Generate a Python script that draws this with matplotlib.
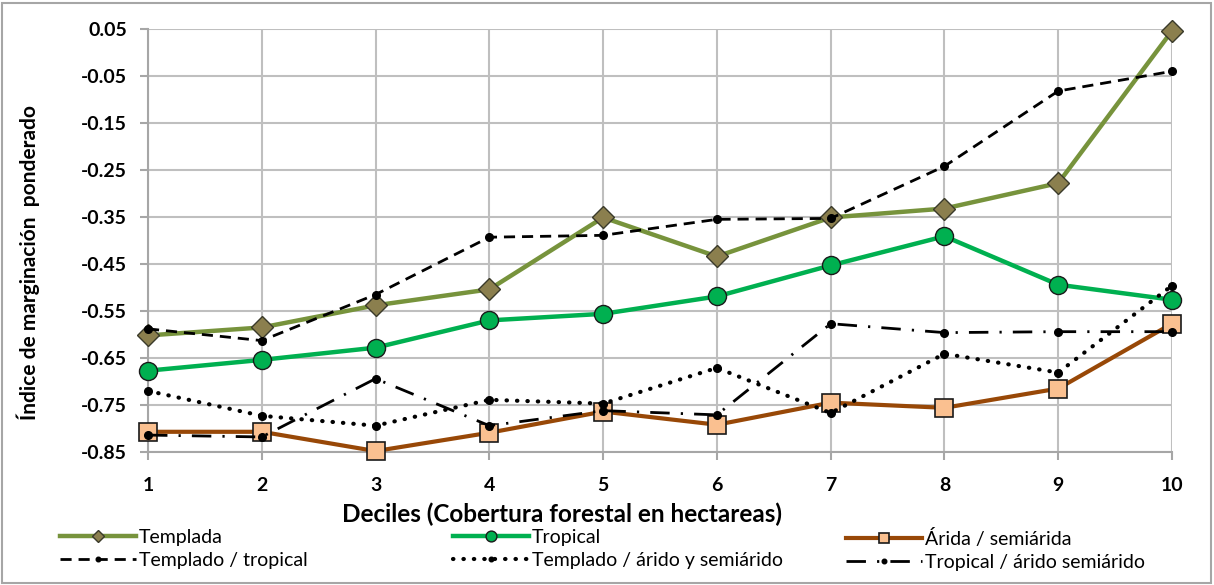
import numpy as np
import matplotlib
matplotlib.use("Agg")
import matplotlib.pyplot as plt
from matplotlib.patches import Rectangle

plt.rcParams['font.family'] = ['Lato', 'DejaVu Sans']

# deciles and the index values
deciles = [1, 2, 3, 4, 5, 6, 7, 8, 9, 10]
templada = [-0.602, -0.585, -0.538, -0.504, -0.351, -0.434, -0.351, -0.332, -0.278, 0.046]
tropical = [-0.677, -0.654, -0.628, -0.570, -0.556, -0.519, -0.453, -0.391, -0.494, -0.526]
arida = [-0.807, -0.807, -0.848, -0.809, -0.764, -0.792, -0.745, -0.756, -0.715, -0.577]
templ_trop = [-0.588, -0.613, -0.515, -0.393, -0.389, -0.355, -0.353, -0.242, -0.082, -0.040]
templ_arido = [-0.720, -0.773, -0.794, -0.739, -0.747, -0.671, -0.767, -0.641, -0.681, -0.496]
trop_arido = [-0.814, -0.818, -0.694, -0.794, -0.762, -0.771, -0.577, -0.596, -0.594, -0.594]

yticks = [0.05, -0.05, -0.15, -0.25, -0.35, -0.45, -0.55, -0.65, -0.75, -0.85]

fig = plt.figure(figsize=(12.14, 5.85), dpi=100)
ax = fig.add_axes([148/1214, 1 - 452/585, (1172 - 148)/1214, (452 - 29)/585])

l1, = ax.plot(deciles, templada, color='#77933C', lw=3.2, marker='D', ms=11,
              mfc='#8B7F4E', mec='#3a3a2a', mew=1, zorder=3, clip_on=False)
l2, = ax.plot(deciles, tropical, color='#00B050', lw=3.2, marker='o', ms=13,
              mfc='#00B050', mec='#1a1a1a', mew=1, zorder=3, clip_on=False)
l3, = ax.plot(deciles, arida, color='#984807', lw=3, marker='s', ms=13,
              mfc='#FAC090', mec='#1a1a1a', mew=1.2, zorder=3, clip_on=False)
l4, = ax.plot(deciles, templ_trop, color='black', lw=2, marker='o', ms=5.5,
              dashes=(4, 2.5), zorder=4, clip_on=False)
l5, = ax.plot(deciles, templ_arido, color='black', lw=3, marker='o', ms=5.5,
              dashes=(0.1, 2.4), dash_capstyle='round', zorder=4, clip_on=False)
l6, = ax.plot(deciles, trop_arido, color='black', lw=2, marker='o', ms=5.5,
              dashes=(7, 4, 0.8, 4), zorder=4, clip_on=False)

ax.set_xlim(1, 10)
ax.set_ylim(-0.85, 0.05)
ax.set_xticks(deciles)
ax.set_yticks(yticks)
ax.set_yticklabels(['%.2f' % v for v in yticks])
ax.grid(True, color='#BFBFBF', lw=1.5)
ax.set_axisbelow(True)
for s in ['top', 'right']:
    ax.spines[s].set_visible(False)
for s in ['left', 'bottom']:
    ax.spines[s].set_color('#A6A6A6')
    ax.spines[s].set_linewidth(1.5)
ax.tick_params(axis='both', direction='out', length=6, width=1.5, color='#A6A6A6',
               labelsize=14)
ax.tick_params(axis='y', pad=9)
ax.tick_params(axis='x', pad=12)
for t in ax.get_xticklabels() + ax.get_yticklabels():
    t.set_fontweight('bold')

fig.text(562/1214, 1 - 514/585, 'Deciles (Cobertura forestal en hectareas)',
         ha='center', va='center', fontsize=17.5, fontweight='bold')
fig.text(28/1214, 1 - 262/585, 'Índice de marginación  ponderado',
         ha='center', va='center', rotation=90, fontsize=15, fontweight='bold')

# three legend columns at fixed positions like the original
cols = [([l1, l4], ['Templada', 'Templado / tropical'], 60),
        ([l2, l5], ['Tropical', 'Templado / árido y semiárido'], 453),
        ([l3, l6], ['Árida / semiárida', 'Tropical / árido semiárido'], 846)]
for hs, labs, x0 in cols:
    fig.legend(hs, labs, loc='upper left', bbox_to_anchor=(x0/1214, 1 - 529/585),
               frameon=False, fontsize=14, handlelength=3.9, handletextpad=0.15,
               labelspacing=0.3, borderpad=0, borderaxespad=0, markerscale=0.6)

fig.add_artist(Rectangle((2/1214, 2/585), 1 - 5/1214, 1 - 5/585, transform=fig.transFigure,
                         fill=False, ec='#A6A6A6', lw=1.5))

fig.savefig('out.png', dpi=100)
